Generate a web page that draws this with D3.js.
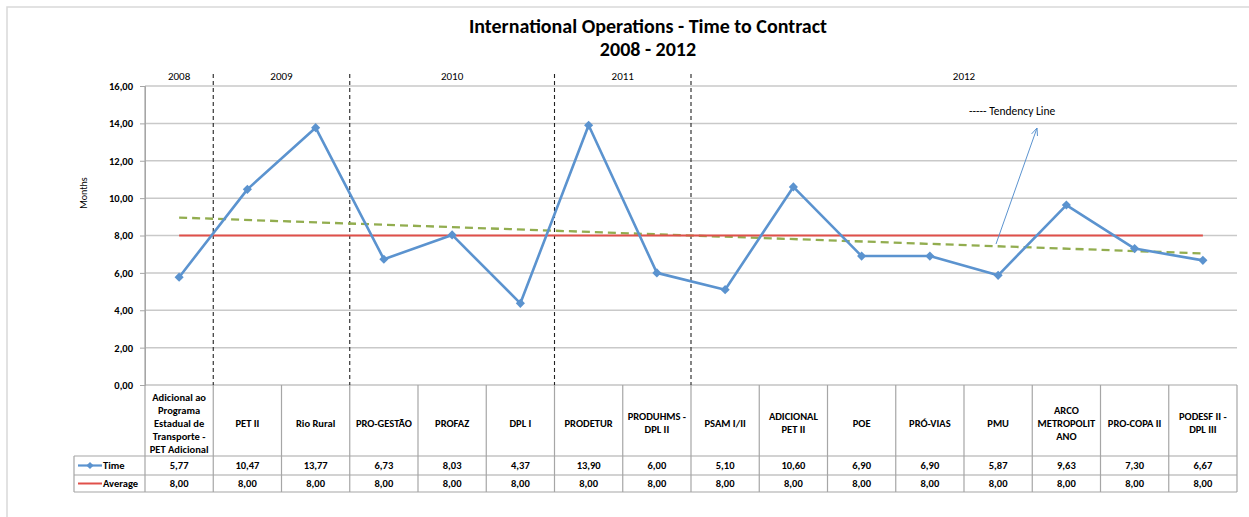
<!DOCTYPE html>
<html><head><meta charset="utf-8">
<script src="https://cdn.jsdelivr.net/npm/d3@7"></script>
<style>
html,body{margin:0;padding:0;background:#fff;}
svg text{font-family:Carlito,Lato,"Liberation Sans",sans-serif;fill:#000;}
</style></head>
<body><svg id="c" width="1249" height="517"></svg>
<script>
// ---- data ----
const categories = ["Adicional ao\nPrograma\nEstadual de\nTransporte -\nPET Adicional","PET II","Rio Rural","PRO-GESTÃO","PROFAZ","DPL I","PRODETUR","PRODUHMS -\nDPL II","PSAM I/II","ADICIONAL\nPET II","POE","PRÓ-VIAS","PMU","ARCO\nMETROPOLIT\nANO","PRO-COPA II","PODESF II -\nDPL III"];
const timeValues = [5.77,10.47,13.77,6.73,8.03,4.37,13.90,6.00,5.10,10.60,6.90,6.90,5.87,9.63,7.30,6.67];
const averageValues = [8,8,8,8,8,8,8,8,8,8,8,8,8,8,8,8];
const tendencyValues = [8.96,7.04]; // trend line at first and last category
const years = ["2008","2009","2010","2011","2012"];
const yearStartIndex = [0,1,3,6,8];
const yTicks = [0,2,4,6,8,10,12,14,16];
const seriesNames = ["Time","Average"];
const titleLines = ["International Operations - Time to Contract","2008 - 2012"];
const yLabel = "Months";
const annotationText = "----- Tendency Line";

// ---- layout ----
const svg = d3.select("#c");
const L = 145, R = 1237, T = 86, B = 385;
const headerBottom = 456, row1Bottom = 475, row2Bottom = 492, legendLeft = 74;
const blue = "#5b93cf", red = "#e0504a", green = "#92ad4f", grid = "#c9c9c9";
const fmt = v => d3.format(".2f")(v).replace(".", ",");

const x = d3.scaleBand().domain(d3.range(categories.length)).range([L, R]).padding(0);
const xc = i => x(i) + x.bandwidth()/2;
const y = d3.scaleLinear().domain([0,16]).range([B, T]);

// outer frame
svg.append("path").attr("d", `M7,517 V7 H1249`).attr("fill","none").attr("stroke","#d9d9d9").attr("stroke-width",1.5);

// title
svg.append("text").attr("x",648).attr("y",33).attr("text-anchor","middle")
  .style("font-size","20px").style("font-weight","bold").text(titleLines[0]);
svg.append("text").attr("x",648).attr("y",56).attr("text-anchor","middle")
  .style("font-size","20px").style("font-weight","bold").text(titleLines[1]);

// gridlines
svg.append("g").selectAll("line").data(yTicks.filter(t=>t>0)).join("line")
  .attr("x1",L).attr("x2",R).attr("y1",d=>y(d)).attr("y2",d=>y(d))
  .attr("stroke",grid).attr("stroke-width",1.5);

// y axis
const yAxis = svg.append("g").attr("transform",`translate(${L},0)`)
  .call(d3.axisLeft(y).tickValues(yTicks).tickFormat(fmt).tickSize(5).tickPadding(7));
yAxis.select(".domain").attr("stroke","#a6a6a6");
yAxis.selectAll(".tick line").attr("stroke","#a6a6a6");
yAxis.selectAll(".tick text").style("font-size","10.5px").style("font-weight","bold")
  .style("font-family","Carlito,Lato,'Liberation Sans',sans-serif").attr("fill","#000");
svg.append("text").attr("transform",`translate(87,193) rotate(-90)`)
  .attr("text-anchor","middle").style("font-size","10px").text(yLabel);

// table
const tbl = svg.append("g");
const tcol = "#a6a6a6";
const fs = "10.5px";
tbl.append("line").attr("x1",L).attr("x2",R).attr("y1",B).attr("y2",B).attr("stroke",tcol).attr("stroke-width",1.2);
[headerBottom,row1Bottom,row2Bottom].forEach(yy=>{
  tbl.append("line").attr("x1",legendLeft).attr("x2",R).attr("y1",yy).attr("y2",yy).attr("stroke",tcol).attr("stroke-width",1.2);
});
tbl.append("line").attr("x1",legendLeft).attr("x2",legendLeft).attr("y1",headerBottom).attr("y2",row2Bottom).attr("stroke",tcol).attr("stroke-width",1.2);
tbl.selectAll(".vl").data(d3.range(categories.length+1)).join("line")
  .attr("x1",i=>i<categories.length? x(i): R).attr("x2",i=>i<categories.length? x(i): R)
  .attr("y1",i=> (i===0)? T : B).attr("y2",row2Bottom)
  .attr("stroke",tcol).attr("stroke-width",1.2);

// category labels
const lh = 13;
categories.forEach((c,i)=>{
  const lines = c.split("\n");
  const cy = 423 + 3.8 - (lines.length-1)*lh/2;
  const t = tbl.append("text").attr("text-anchor","middle").style("font-size",fs).style("font-weight","bold");
  lines.forEach((ln,k)=>t.append("tspan").attr("x",xc(i)).attr("y",cy+k*lh).text(ln));
});
// values rows
[timeValues,averageValues].forEach((vals,r)=>{
  const ry = r===0 ? (headerBottom+row1Bottom)/2+3.8 : (row1Bottom+row2Bottom)/2+3.8;
  tbl.selectAll(".v"+r).data(vals).join("text").attr("x",(d,i)=>xc(i)).attr("y",ry)
    .attr("text-anchor","middle").style("font-size",fs).style("font-weight","bold").text(fmt);
});
// legend in table
const sq = d3.symbol().type(d3.symbolSquare);
const l1y = (headerBottom+row1Bottom)/2, l2y=(row1Bottom+row2Bottom)/2;
tbl.append("line").attr("x1",78).attr("x2",102).attr("y1",l1y).attr("y2",l1y).attr("stroke",blue).attr("stroke-width",2.2);
tbl.append("path").attr("d",sq.size(26)).attr("transform",`translate(90,${l1y}) rotate(45)`).attr("fill",blue);
tbl.append("text").attr("x",103).attr("y",l1y+3.8).style("font-size",fs).style("font-weight","bold").text(seriesNames[0]);
tbl.append("line").attr("x1",78).attr("x2",102).attr("y1",l2y).attr("y2",l2y).attr("stroke",red).attr("stroke-width",2);
tbl.append("text").attr("x",103).attr("y",l2y+3.8).style("font-size",fs).style("font-weight","bold").text(seriesNames[1]);

// year dividers
yearStartIndex.slice(1).forEach(i=>{
  svg.append("line").attr("x1",x(i)).attr("x2",x(i)).attr("y1",74).attr("y2",B)
    .attr("stroke","#222").attr("stroke-width",1.1).attr("stroke-dasharray","4,3");
});
years.forEach((yr,k)=>{
  const s = x(yearStartIndex[k]);
  const e = k<years.length-1 ? x(yearStartIndex[k+1]) : R;
  svg.append("text").attr("x",(s+e)/2).attr("y",80).attr("text-anchor","middle")
    .style("font-size","11px").text(yr);
});

// tendency line
svg.append("path").datum(tendencyValues)
  .attr("d",d3.line().x((d,i)=> i===0 ? xc(0) : xc(categories.length-1)).y(d=>y(d)))
  .attr("fill","none").attr("stroke",green).attr("stroke-width",2.3).attr("stroke-dasharray","8,5");

// average line
svg.append("path").datum(averageValues)
  .attr("d",d3.line().x((d,i)=>xc(i)).y(d=>y(d)))
  .attr("fill","none").attr("stroke",red).attr("stroke-width",2);

// time line
svg.append("path").datum(timeValues)
  .attr("d",d3.line().x((d,i)=>xc(i)).y(d=>y(d)))
  .attr("fill","none").attr("stroke",blue).attr("stroke-width",2.6).attr("stroke-linejoin","round");
svg.selectAll(".pt").data(timeValues).join("path")
  .attr("d",d3.symbol().type(d3.symbolSquare).size(42))
  .attr("transform",(d,i)=>`translate(${xc(i)},${y(d)}) rotate(45)`).attr("fill",blue);

// annotation
svg.append("text").attr("x",969).attr("y",115).style("font-size","11.5px").text(annotationText);
const ax1=996, ay1=244, ax2=1037, ay2=128;
svg.append("line").attr("x1",ax1).attr("y1",ay1).attr("x2",ax2).attr("y2",ay2).attr("stroke",blue).attr("stroke-width",1);
const ang = Math.atan2(ay1-ay2, ax1-ax2);
[0.4,-0.4].forEach(a=>{
  svg.append("line").attr("x1",ax2).attr("y1",ay2)
    .attr("x2",ax2+8*Math.cos(ang+a)).attr("y2",ay2+8*Math.sin(ang+a))
    .attr("stroke",blue).attr("stroke-width",1);
});
</script></body></html>
